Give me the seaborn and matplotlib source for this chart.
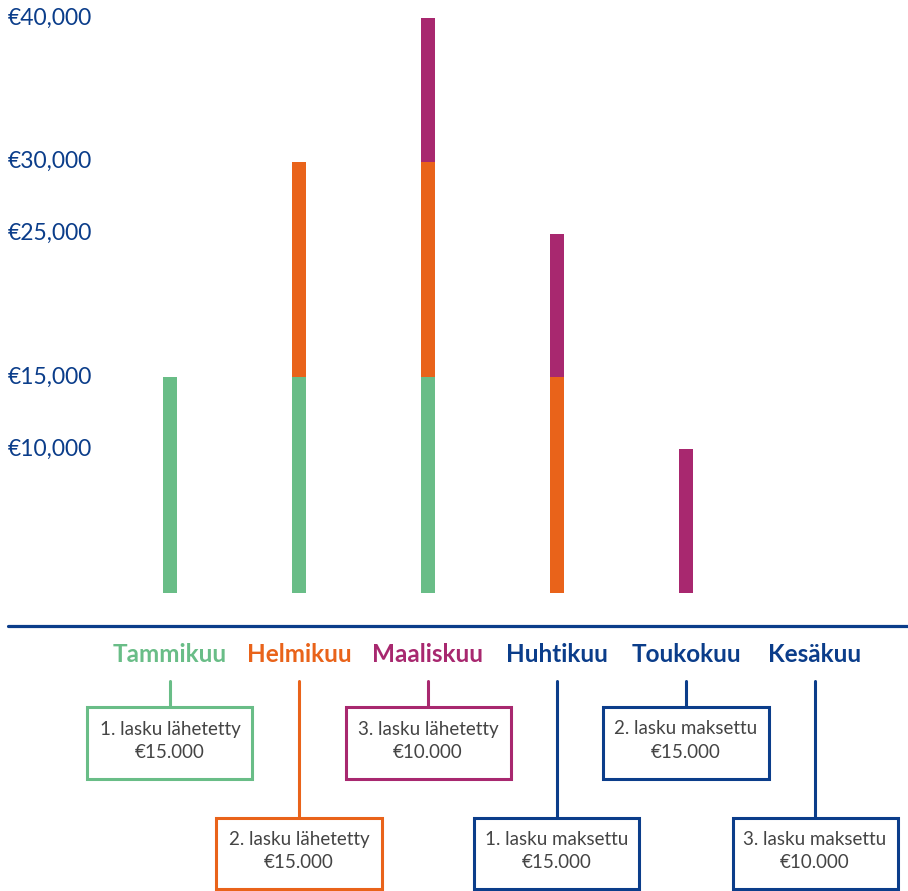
import matplotlib
matplotlib.use("Agg")
import matplotlib.pyplot as plt
import matplotlib.transforms as mtransforms
from matplotlib.patches import Rectangle
from matplotlib.lines import Line2D
import seaborn as sns
import pandas as pd

# Data
months = ["Tammikuu", "Helmikuu", "Maaliskuu", "Huhtikuu", "Toukokuu", "Kesäkuu"]
invoice1 = [15000, 15000, 15000, 0, 0, 0]      # green
invoice2 = [0, 15000, 15000, 15000, 0, 0]      # orange
invoice3 = [0, 0, 10000, 10000, 10000, 0]      # magenta
y_ticks = [10000, 15000, 25000, 30000, 40000]
y_labels = ["€10,000", "€15,000", "€25,000", "€30,000", "€40,000"]
event_titles = ["1. lasku lähetetty", "2. lasku lähetetty", "3. lasku lähetetty",
                "1. lasku maksettu", "2. lasku maksettu", "3. lasku maksettu"]
event_amounts = ["€15.000", "€15.000", "€10.000", "€15.000", "€15.000", "€10.000"]

GREEN = "#69bd87"
ORANGE = "#e9631a"
MAGENTA = "#a8286f"
BLUE = "#0b3d8a"
GREY = "#444444"
month_colors = [GREEN, ORANGE, MAGENTA, BLUE, BLUE, BLUE]
box_lower = [False, True, False, True, False, True]

sns.set_style("white")
plt.rcParams["font.family"] = ["Lato", "DejaVu Sans"]

W, H = 908, 891
fig = plt.figure(figsize=(W / 100, H / 100), dpi=100, facecolor="white")

def fy(py):  # pixel row -> figure fraction
    return 1 - py / H

step = 129.0
x0 = 170.0
ax = fig.add_axes([0, fy(593), 1, (593 - 18) / H])

df = pd.DataFrame({"month": months,
                   "inv1": invoice1, "inv2": invoice2, "inv3": invoice3})
df["lvl1"] = df["inv1"]
df["lvl2"] = df["inv1"] + df["inv2"]
df["lvl3"] = df["inv1"] + df["inv2"] + df["inv3"]

# stacked look by layering cumulative totals
for col, c in [("lvl3", MAGENTA), ("lvl2", ORANGE), ("lvl1", GREEN)]:
    sns.barplot(data=df, x="month", y=col, order=months, color=c,
                saturation=1, width=0.11, linewidth=0, ax=ax)

ax.set_xlim(-x0 / step, (W - x0) / step)
ax.set_ylim(0, 40000)
ax.axis("off")

# y labels
for v, lab in zip(y_ticks, y_labels):
    ax.text(8 / W, v, lab, transform=ax.get_yaxis_transform(), ha="left",
            va="center", fontsize=16.5, color=BLUE)

blend = mtransforms.blended_transform_factory(ax.transData, fig.transFigure)

# baseline
fig.add_artist(Line2D([8 / W, 1], [fy(626), fy(626)], color=BLUE, lw=2.3))

bw = 165 / step
for i, m in enumerate(months):
    c = month_colors[i]
    ax.text(i, fy(654), m, transform=blend, ha="center", va="center",
            fontsize=17.5, fontweight="bold", color=c, clip_on=False)
    top, bot = (818, 889) if box_lower[i] else (707, 779)
    ax.add_line(Line2D([i, i], [fy(681), fy(top)], transform=blend,
                       color=c, lw=2.2, clip_on=False))
    ax.add_patch(Rectangle((i - bw / 2, fy(bot)), bw, (bot - top) / H,
                           transform=blend, fill=True, fc="white", ec=c,
                           lw=2.2, clip_on=False))
    mid = (top + bot) / 2
    ax.text(i, fy(mid - 14), event_titles[i], transform=blend, ha="center",
            va="center", fontsize=13.5, color=GREY, clip_on=False)
    ax.text(i, fy(mid + 9), event_amounts[i], transform=blend, ha="center",
            va="center", fontsize=13.5, color=GREY, clip_on=False)

fig.savefig("out.png", dpi=100, facecolor="white")
